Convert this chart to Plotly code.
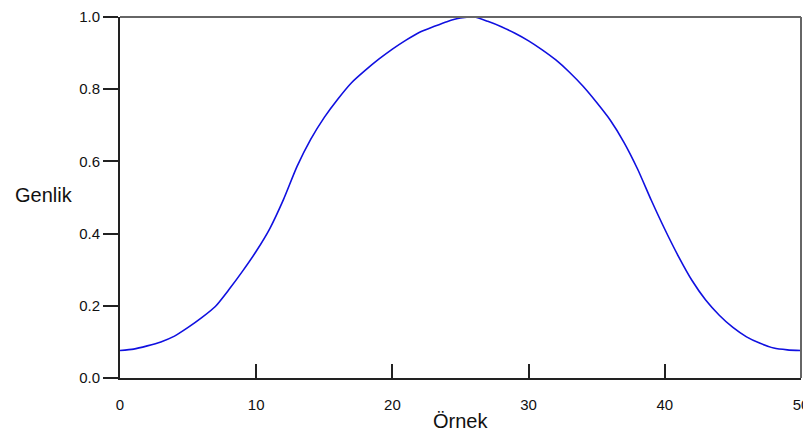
import plotly.graph_objects as go

# Samples (Örnek) and amplitude (Genlik)
samples = list(range(51))
amplitude = [
    0.076, 0.080, 0.089, 0.100, 0.116, 0.140, 0.167, 0.198, 0.245, 0.296,
    0.351, 0.414, 0.494, 0.586, 0.661, 0.722, 0.773, 0.818, 0.852, 0.883,
    0.911, 0.936, 0.958, 0.973, 0.987, 0.997, 1.000, 0.988, 0.973, 0.955,
    0.934, 0.909, 0.881, 0.847, 0.808, 0.763, 0.714, 0.653, 0.579, 0.493,
    0.412, 0.337, 0.270, 0.216, 0.174, 0.140, 0.114, 0.096, 0.083, 0.078,
    0.076,
]
x_ticks = [0, 10, 20, 30, 40, 50]
y_ticks = [0.0, 0.2, 0.4, 0.6, 0.8, 1.0]
y_ticktext = ["0.0", "0.2", "0.4", "0.6", "0.8", "1.0"]

FONT = "Liberation Sans, Arial, sans-serif"

fig = go.Figure()
fig.add_trace(go.Scatter(
    x=samples, y=amplitude, mode="lines",
    line=dict(color="#1010e0", width=1.6, shape="spline", smoothing=0.6),
    hoverinfo="skip", showlegend=False, cliponaxis=False,
))

# The page body adds an 8px offset, so the figure is sized to fit the window
fig.update_layout(
    width=803, height=431,
    margin=dict(l=112, r=10, t=9, b=61),
    paper_bgcolor="white", plot_bgcolor="white",
    font=dict(family=FONT, size=15, color="#111"),
    xaxis=dict(
        range=[0, 50], tickvals=x_ticks, ticks="inside", ticklen=14,
        tickwidth=2, tickcolor="#222", showline=True, linecolor="#222",
        linewidth=2, showgrid=False, zeroline=False, automargin=False,
        ticklabeloverflow="allow", ticklabelstandoff=12,
        tickfont=dict(size=15, family=FONT, color="#111"),
    ),
    yaxis=dict(
        range=[0, 1], tickvals=y_ticks, ticktext=y_ticktext, ticks="outside",
        ticklen=15, tickwidth=2, tickcolor="#222", showline=True,
        linecolor="#222", linewidth=2, showgrid=False, zeroline=False,
        automargin=False, ticklabeloverflow="allow",
        tickfont=dict(size=15, family=FONT, color="#111"),
    ),
    shapes=[
        dict(type="line", xref="paper", yref="paper", x0=0, x1=1, y0=1, y1=1,
             line=dict(color="#666", width=2)),
        dict(type="line", xref="paper", yref="paper", x0=1, x1=1, y0=0, y1=1,
             line=dict(color="#666", width=2)),
    ],
    annotations=[
        dict(text="Genlik", xref="paper", yref="paper", x=-0.157, y=0.507,
             xanchor="left", yanchor="middle", showarrow=False,
             font=dict(size=20, family=FONT, color="#111")),
        dict(text="Örnek", xref="paper", yref="paper", x=0.5, y=-0.119,
             xanchor="center", yanchor="middle", showarrow=False,
             font=dict(size=20, family=FONT, color="#111")),
    ],
)

fig.write_html("out.html")
